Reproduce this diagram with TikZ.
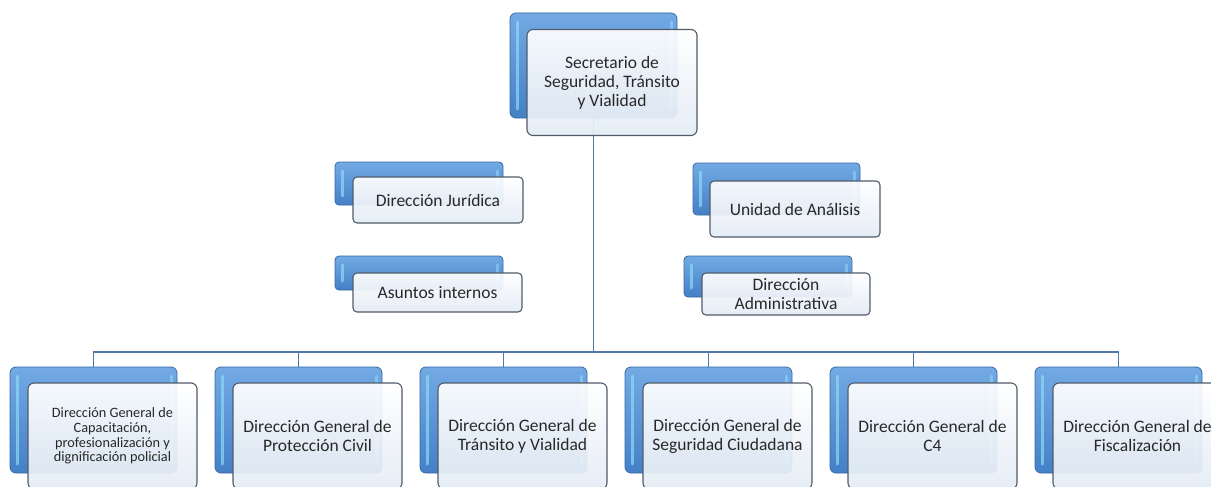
\documentclass[tikz,border=0pt]{standalone}
\usepackage{fontspec}
\setmainfont{Carlito}
\usetikzlibrary{backgrounds}
\definecolor{bluetop}{RGB}{115,170,228}
\definecolor{bluebot}{RGB}{68,128,198}
\definecolor{blueedge}{RGB}{55,105,165}
\definecolor{frontedge}{RGB}{80,92,108}
\definecolor{frontbot}{RGB}{228,236,245}
\definecolor{linecol}{RGB}{80,120,165}
\definecolor{txt}{RGB}{40,40,40}
\tikzset{
  backbox/.style={draw=blueedge, line width=0.8pt, rounded corners=6pt, top color=bluetop, bottom color=bluebot, inner sep=0pt,
    path picture={\draw[line width=3pt, color=white!55!cyan, opacity=0.7, line cap=round]
      ([xshift=7pt,yshift=-9pt]path picture bounding box.north west) -- ([xshift=7pt,yshift=9pt]path picture bounding box.south west);
      \draw[line width=3pt, color=white!60!cyan, opacity=0.5, line cap=round]
      ([xshift=-6pt,yshift=-9pt]path picture bounding box.north east) -- ([xshift=-6pt,yshift=9pt]path picture bounding box.south east);}},
  frontbox/.style={draw=frontedge, line width=1.1pt, rounded corners=6pt, top color=white, bottom color=frontbot, fill opacity=0.93, text opacity=1, inner sep=2pt, align=center, text=txt, font=\fontsize{17.5}{19}\selectfont},
  smalltext/.style={font=\fontsize{14.3}{14.6}\selectfont},
  conn/.style={draw=linecol, line width=1.2pt}
}
\begin{document}
\begin{tikzpicture}[x=1pt,y=-1pt]
\useasboundingbox (0,0) rectangle (1211,487);
% top
\node[backbox, minimum width=167pt, minimum height=105pt] (sb) at (593.5,65.5) {};
\node[frontbox, minimum width=170pt, minimum height=106pt] (s) at (612,82.5) {Secretario de\\Seguridad, Tránsito\\y Vialidad};
% side boxes
\node[backbox, minimum width=168pt, minimum height=43pt, rounded corners=4pt] (jb) at (419,183.5) {};
\node[frontbox, minimum width=170pt, minimum height=46pt, rounded corners=4pt] (j) at (438,200) {Dirección Jurídica};
\node[backbox, minimum width=168pt, minimum height=34pt, rounded corners=4pt] (ab) at (419,273) {};
\node[frontbox, minimum width=169pt, minimum height=39pt, rounded corners=4pt] (a) at (437.5,292.5) {Asuntos internos};
\node[backbox, minimum width=167pt, minimum height=52pt, rounded corners=4pt] (ub) at (776.5,189) {};
\node[frontbox, minimum width=170pt, minimum height=56pt, rounded corners=4pt] (u) at (795,209) {Unidad de Análisis};
\node[backbox, minimum width=168pt, minimum height=41pt, rounded corners=4pt] (db) at (768,276.5) {};
\node[frontbox, minimum width=168pt, minimum height=42pt, rounded corners=4pt] (d) at (786,294) {Dirección\\Administrativa};
% bottom row
\node[backbox, minimum width=167pt, minimum height=106pt] (b1b) at (93.5,420) {};
\node[frontbox, smalltext, minimum width=169pt, minimum height=106pt] (b1) at (112.5,436) {Dirección General de\\Capacitación,\\profesionalización y\\dignificación policial};
\node[backbox, minimum width=167pt, minimum height=106pt] (b2b) at (298.5,420) {};
\node[frontbox, minimum width=169pt, minimum height=106pt] (b2) at (317.5,436) {Dirección General de\\Protección Civil};
\node[backbox, minimum width=167pt, minimum height=106pt] (b3b) at (503.5,420) {};
\node[frontbox, minimum width=169pt, minimum height=106pt] (b3) at (522.5,436) {Dirección General de\\Tránsito y Vialidad};
\node[backbox, minimum width=167pt, minimum height=106pt] (b4b) at (708.5,420) {};
\node[frontbox, minimum width=169pt, minimum height=106pt] (b4) at (727.5,436) {Dirección General de\\Seguridad Ciudadana};
\node[backbox, minimum width=167pt, minimum height=106pt] (b5b) at (913.5,420) {};
\node[frontbox, minimum width=169pt, minimum height=106pt] (b5) at (932.5,436) {Dirección General de\\C4};
\node[backbox, minimum width=167pt, minimum height=106pt] (b6b) at (1118.5,420) {};
\node[frontbox, minimum width=169pt, minimum height=106pt] (b6) at (1137.5,436) {Dirección General de\\Fiscalización};
% connectors
\coordinate (bus) at (593.5,352);
\begin{pgfonlayer}{background}
\fill[white] (0,0) rectangle (1211,487);
\draw[conn] (sb.south) -- (bus);
\draw[conn] (b1b.north) -- (b1b.north |- bus) -- (b6b.north |- bus) -- (b6b.north);
\draw[conn] (b2b.north) -- (b2b.north |- bus);
\draw[conn] (b3b.north) -- (b3b.north |- bus);
\draw[conn] (b4b.north) -- (b4b.north |- bus);
\draw[conn] (b5b.north) -- (b5b.north |- bus);
\end{pgfonlayer}
\end{tikzpicture}
\end{document}
